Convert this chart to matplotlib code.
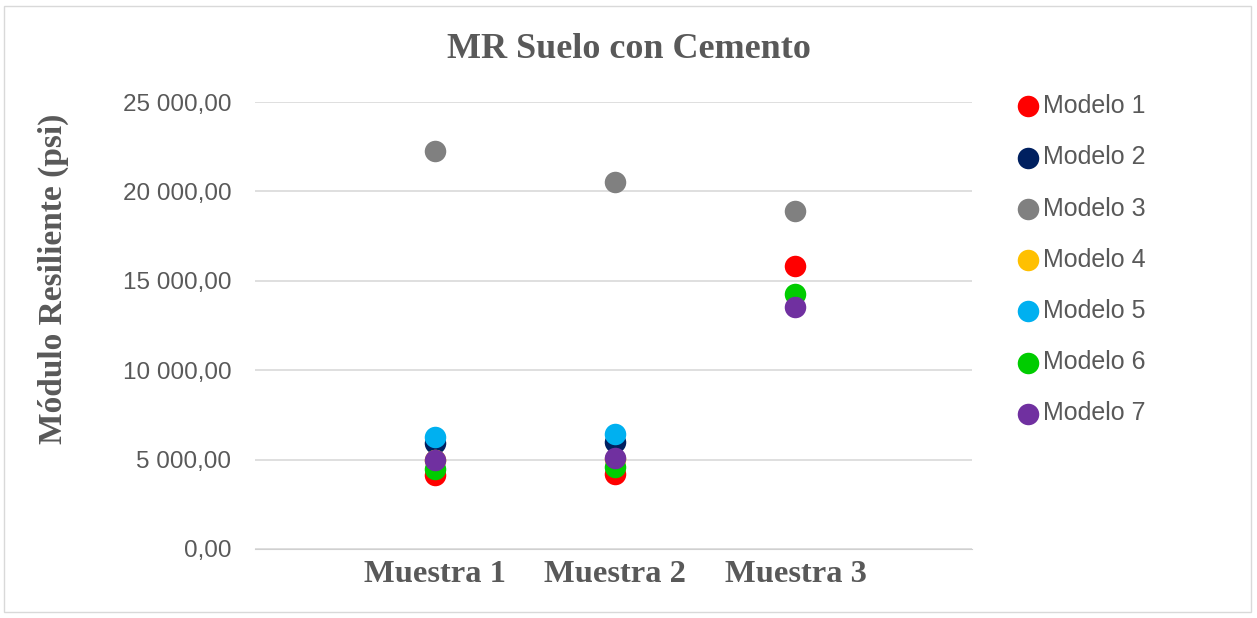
import matplotlib
matplotlib.use("Agg")
import matplotlib.pyplot as plt
from matplotlib.patches import Rectangle
import numpy as np

categories = ["Muestra 1", "Muestra 2", "Muestra 3"]
models = ["Modelo 1", "Modelo 2", "Modelo 3", "Modelo 4", "Modelo 5", "Modelo 6", "Modelo 7"]
colors = ["#FF0000", "#002060", "#808080", "#FFC000", "#00B0F0", "#00CC00", "#7030A0"]

modelo1 = [4150, 4200, 15830]
modelo2 = [5950, 6000, np.nan]
modelo3 = [22250, 20500, 18900]
modelo4 = [4950, 5050, np.nan]
modelo5 = [6280, 6420, np.nan]
modelo6 = [4500, 4580, 14250]
modelo7 = [4950, 5080, 13550]
series = [modelo1, modelo2, modelo3, modelo4, modelo5, modelo6, modelo7]

yticks = [0, 5000, 10000, 15000, 20000, 25000]
ytick_labels = ["0,00", "5 000,00", "10 000,00", "15 000,00", "20 000,00", "25 000,00"]

fig = plt.figure(figsize=(12.57, 6.18), dpi=100)
fig.add_artist(Rectangle((4/1257, 6/618), 1247/1257, 606/618, transform=fig.transFigure,
                         fill=False, edgecolor="#d9d9d9", linewidth=1))
ax = fig.add_axes([255/1257, 1 - 549/618, (972-255)/1257, (549-102)/618])

x = np.arange(1, len(categories) + 1)
for name, vals, c in zip(models, series, colors):
    ax.scatter(x, vals, s=240, color=c, label=name, zorder=3, linewidths=0)

ax.set_xlim(0, 3.98)
ax.set_ylim(0, 25000)
ax.set_yticks(yticks)
ax.set_yticklabels(ytick_labels, fontfamily="Liberation Sans", fontsize=17.5, color="#595959")
ax.set_xticks(x)
ax.set_xticklabels(categories, fontfamily="Liberation Serif", fontweight="bold", fontsize=23.4, color="#595959")
ax.tick_params(axis="both", length=0)
ax.tick_params(axis="y", pad=17)
ax.tick_params(axis="x", pad=8)
ax.grid(axis="y", color="#d9d9d9", linewidth=1.2, zorder=0)
for s in ["top", "right", "left"]:
    ax.spines[s].set_visible(False)
ax.spines["bottom"].set_color("#d0d0d0")
ax.set_axisbelow(True)

ax.set_ylabel("Módulo Resiliente (psi)", fontfamily="Liberation Serif", fontweight="bold",
              fontsize=24, color="#595959")
ax.yaxis.set_label_coords((69 - 255) / 717, (549 - 279) / 447)
fig.text(629/1257, 1 - 50/618, "MR Suelo con Cemento", ha="center", va="center",
         fontfamily="Liberation Serif", fontweight="bold", fontsize=26, color="#595959")

leg = fig.legend(loc="upper left", bbox_to_anchor=(1005/1257, 1 - 84/618), frameon=False,
                 prop={"family": "Liberation Sans", "size": 18}, labelcolor="#595959",
                 handlelength=1.0, handletextpad=0.12, labelspacing=1.09, borderaxespad=0)

fig.savefig("out.png", dpi=100, facecolor="white")
